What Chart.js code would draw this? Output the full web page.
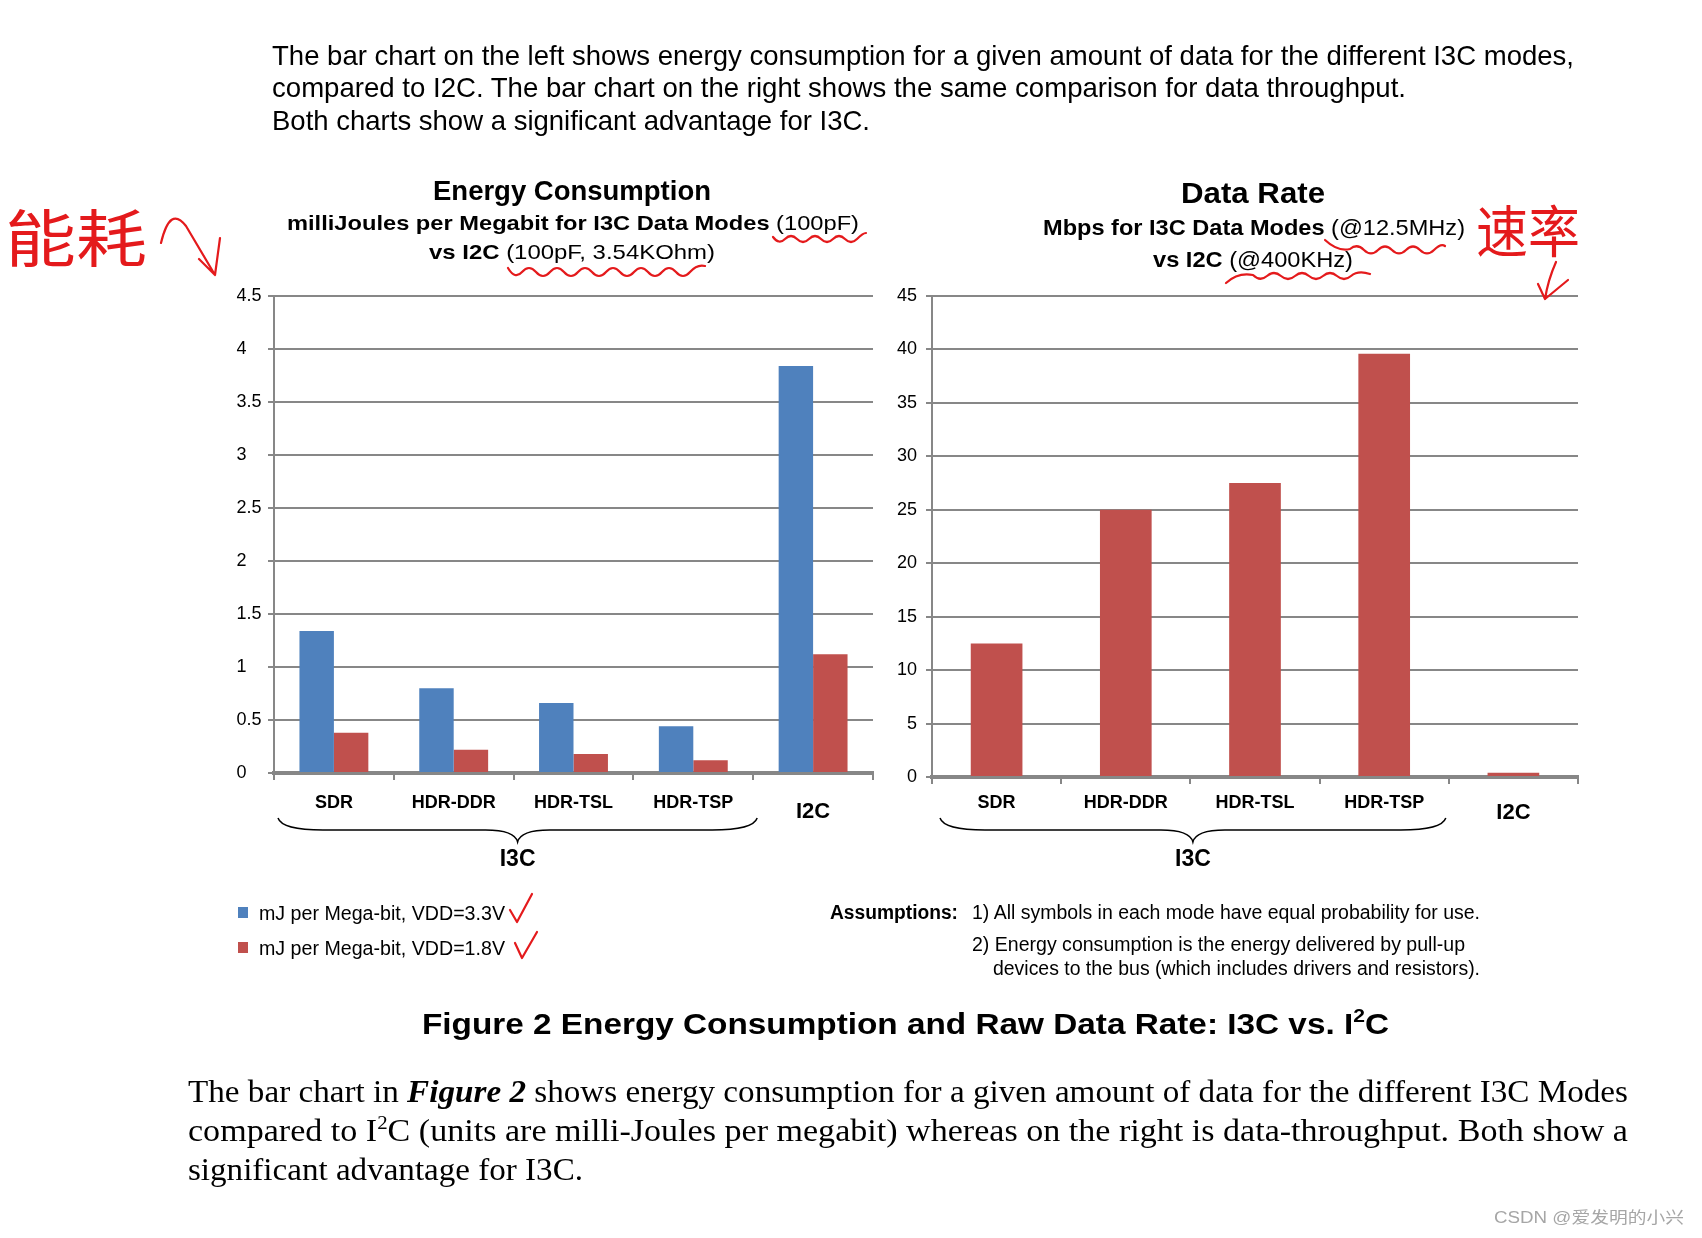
<!DOCTYPE html>
<html><head><meta charset="utf-8">
<script src="https://cdn.jsdelivr.net/npm/chart.js@4"></script>
<style>
html,body{margin:0;padding:0;background:#fff;width:1702px;height:1238px;overflow:hidden;}
canvas{position:absolute;}
#overlay{position:absolute;left:0;top:0;}
</style></head><body>
<canvas id="left" width="700" height="640" style="left:200px;top:260px"></canvas>
<canvas id="right" width="740" height="640" style="left:860px;top:260px"></canvas>
<svg id="overlay" width="1702" height="1238" xmlns="http://www.w3.org/2000/svg">
<g font-family="'Liberation Sans', Arial, sans-serif" fill="#000">
  <text x="272" y="65" font-size="28" textLength="1302" lengthAdjust="spacingAndGlyphs">The bar chart on the left shows energy consumption for a given amount of data for the different I3C modes,</text>
  <text x="272" y="97" font-size="28" textLength="1134" lengthAdjust="spacingAndGlyphs">compared to I2C. The bar chart on the right shows the same comparison for data throughput.</text>
  <text x="272" y="130" font-size="28" textLength="598" lengthAdjust="spacingAndGlyphs">Both charts show a significant advantage for I3C.</text>

  <text x="433" y="200" font-size="27" font-weight="bold" textLength="278" lengthAdjust="spacingAndGlyphs">Energy Consumption</text>
  <text x="287" y="230" font-size="21" textLength="572" lengthAdjust="spacingAndGlyphs"><tspan font-weight="bold">milliJoules per Megabit for I3C Data Modes</tspan> (100pF)</text>
  <text x="429" y="259" font-size="21" textLength="286" lengthAdjust="spacingAndGlyphs"><tspan font-weight="bold">vs I2C</tspan> (100pF, 3.54KOhm)</text>

  <text x="1181" y="203" font-size="30" font-weight="bold" textLength="144" lengthAdjust="spacingAndGlyphs">Data Rate</text>
  <text x="1043" y="235" font-size="22" textLength="422" lengthAdjust="spacingAndGlyphs"><tspan font-weight="bold">Mbps for I3C Data Modes</tspan> (@12.5MHz)</text>
  <text x="1153" y="267" font-size="22" textLength="200" lengthAdjust="spacingAndGlyphs"><tspan font-weight="bold">vs I2C</tspan> (@400KHz)</text>

  <g id="legend"></g>

  <text x="830" y="919" font-size="20" font-weight="bold" textLength="128" lengthAdjust="spacingAndGlyphs">Assumptions:</text>
  <text x="972" y="919" font-size="20" textLength="508" lengthAdjust="spacingAndGlyphs">1) All symbols in each mode have equal probability for use.</text>
  <text x="972" y="951" font-size="20" textLength="493" lengthAdjust="spacingAndGlyphs">2) Energy consumption is the energy delivered by pull-up</text>
  <text x="993" y="975" font-size="20" textLength="487" lengthAdjust="spacingAndGlyphs">devices to the bus (which includes drivers and resistors).</text>

  <text x="422" y="1034" font-size="30" font-weight="bold" textLength="967" lengthAdjust="spacingAndGlyphs">Figure 2 Energy Consumption and Raw Data Rate: I3C vs. I<tspan dy="-12" font-size="19">2</tspan><tspan dy="12">C</tspan></text>

  <text x="1494" y="1223" font-size="16" fill="#a6a6a6" font-family="'Liberation Sans','Noto Sans CJK SC',sans-serif" textLength="190" lengthAdjust="spacingAndGlyphs">CSDN @爱发明的小兴</text>
</g>
<g font-family="'Liberation Serif','Times New Roman',serif" fill="#000" font-size="31">
  <text x="188" y="1102" textLength="1440" lengthAdjust="spacingAndGlyphs">The bar chart in <tspan font-weight="bold" font-style="italic">Figure 2</tspan> shows energy consumption for a given amount of data for the different I3C Modes</text>
  <text x="188" y="1141" textLength="1440" lengthAdjust="spacingAndGlyphs">compared to I<tspan dy="-12" font-size="19">2</tspan><tspan dy="12">C (units are milli-Joules per megabit) whereas on the right is data-throughput. Both show a</tspan></text>
  <text x="188" y="1180" textLength="395" lengthAdjust="spacingAndGlyphs">significant advantage for I3C.</text>
</g>
<g fill="#e41a1c" font-family="'Noto Sans CJK SC',sans-serif">
  <text x="5" y="262" font-size="62" textLength="142" lengthAdjust="spacingAndGlyphs">能耗</text>
  <text x="1476" y="252" font-size="56" textLength="104" lengthAdjust="spacingAndGlyphs">速率</text>
</g>
<g fill="none" stroke="#e41a1c" stroke-width="2.2" stroke-linecap="round" stroke-linejoin="round">
  <path d="M161,243 Q170,205 186,226 L215,275 M199,259 L215,275 L220,238"/>
  <path d="M1556,262 Q1548,280 1545,299 M1538,284 L1545,299 L1568,280"/>
  <path d="M773,237 Q779,245 785,239 T797,239 T809,239 T821,239 T833,239 T845,239 T857,239 T866,233"/>
  <path d="M508,268 Q515,280 522,272 T536,272 T550,272 T564,272 T578,272 T592,272 T606,272 T620,272 T634,272 T648,272 T662,272 T676,272 T690,272 T705,266"/>
  <path d="M1325,240 Q1338,252 1350,249 Q1357,243 1364,250 T1378,250 T1392,250 T1406,250 T1420,250 T1434,250 T1445,246"/>
  <path d="M1226,283 Q1238,272 1253,275 Q1260,282 1267,276 T1281,276 T1295,276 T1309,276 T1323,276 T1337,276 T1351,276 T1370,274"/>
  <path d="M510,910 L517,922 L532,894"/>
  <path d="M515,943 L522,958 L537,932"/>
</g>
</svg>
<script>
// ---- data ----
const categories = ['SDR', 'HDR-DDR', 'HDR-TSL', 'HDR-TSP', 'I2C'];
const energyVdd33 = [1.34, 0.80, 0.66, 0.44, 3.84];
const energyVdd18 = [0.38, 0.22, 0.18, 0.12, 1.12];
const dataRateMbps = [12.5, 25, 27.5, 39.6, 0.4];
const energyTicks = ['0', '0.5', '1', '1.5', '2', '2.5', '3', '3.5', '4', '4.5'];
const rateTicks = ['0', '5', '10', '15', '20', '25', '30', '35', '40', '45'];
const seriesNames = ['mJ per Mega-bit, VDD=3.3V', 'mJ per Mega-bit, VDD=1.8V'];
const groupLabel = 'I3C';
const BLUE = '#4F81BD', RED = '#C0504D', GRID = '#878787';

Chart.defaults.font.family = "'Liberation Sans', Arial, sans-serif";
Chart.defaults.color = '#000';

const bracePlugin = {
  id: 'brace',
  afterDraw(chart, args, o) {
    const x = chart.scales.x, ctx = chart.ctx;
    const half = (x.getPixelForValue(1) - x.getPixelForValue(0)) / 2;
    const x0 = x.getPixelForValue(0) - half + o.inset0;
    const x1 = x.getPixelForValue(3) + half + o.inset1;
    const yT = o.top, yM = yT + 12, yP = yT + 24, xm = (x0 + x1) / 2;
    ctx.save();
    ctx.strokeStyle = '#000'; ctx.lineWidth = 1.5;
    ctx.beginPath();
    ctx.moveTo(x0, yT);
    ctx.quadraticCurveTo(x0 + 4, yM, x0 + 45, yM);
    ctx.lineTo(xm - 32, yM);
    ctx.quadraticCurveTo(xm - 3, yM, xm, yP);
    ctx.quadraticCurveTo(xm + 3, yM, xm + 32, yM);
    ctx.lineTo(x1 - 45, yM);
    ctx.quadraticCurveTo(x1 - 4, yM, x1, yT);
    ctx.stroke();
    ctx.font = "bold 23px 'Liberation Sans', Arial, sans-serif";
    ctx.textAlign = 'center'; ctx.textBaseline = 'middle';
    ctx.fillStyle = '#000';
    ctx.fillText(groupLabel, xm, o.labelY);
    ctx.restore();
  }
};

function xScale(height, pad, i2cLH) {
  return {
    type: 'category', offset: true,
    afterFit: s => { s.height = height; },
    grid: { display: true, drawOnChartArea: false, drawTicks: true, tickLength: 7, color: GRID, lineWidth: 2, offset: true },
    border: { display: true, color: GRID, width: 4 },
    ticks: {
      padding: pad, color: '#000', maxRotation: 0, autoSkip: false,
      font: c => c.index === 4 ? { size: 22, weight: 'bold', lineHeight: i2cLH } : { size: 18, weight: 'bold', lineHeight: 1.2 }
    }
  };
}

function yScale(max, step, labels, width, align, pad) {
  return {
    min: 0, max: max,
    afterFit: s => { s.width = width; },
    grid: { color: GRID, lineWidth: 2, drawTicks: true, tickLength: 6 },
    border: { display: true, color: GRID, width: 2 },
    ticks: { stepSize: step, crossAlign: align, padding: pad, color: '#000', font: { size: 18 },
      callback: (v, i) => labels[i] }
  };
}

new Chart(document.getElementById('left'), {
  type: 'bar',
  data: {
    labels: categories,
    datasets: [
      { label: seriesNames[0], data: energyVdd33, backgroundColor: BLUE, borderWidth: 0, categoryPercentage: 0.575, barPercentage: 1 },
      { label: seriesNames[1], data: energyVdd18, backgroundColor: RED, borderWidth: 0, categoryPercentage: 0.575, barPercentage: 1 }
    ]
  },
  options: {
    responsive: false, animation: false, devicePixelRatio: 1,
    layout: { padding: { left: 36.6, top: 36, right: 27, bottom: 0 } },
    plugins: { legend: { display: false }, tooltip: { enabled: false },
      brace: { inset0: 4, inset1: 4, top: 558, labelY: 600 } },
    scales: { x: xScale(127, 12, 1.8), y: yScale(4.5, 0.5, energyTicks, 37.4, 'far', 8) }
  },
  plugins: [bracePlugin]
});

new Chart(document.getElementById('right'), {
  type: 'bar',
  data: {
    labels: categories,
    datasets: [
      { label: 'Mbps', data: dataRateMbps, backgroundColor: RED, borderWidth: 0, categoryPercentage: 0.4, barPercentage: 1 }
    ]
  },
  options: {
    responsive: false, animation: false, devicePixelRatio: 1,
    layout: { padding: { left: 20, top: 36, right: 22, bottom: 0 } },
    plugins: { legend: { display: false }, tooltip: { enabled: false },
      brace: { inset0: 8, inset1: -3, top: 558, labelY: 600 } },
    scales: { x: xScale(123, 8, 1.9), y: yScale(45, 5, rateTicks, 52, 'near', 9) }
  },
  plugins: [bracePlugin]
});

// legend built from series names
const NS = 'http://www.w3.org/2000/svg';
const lg = document.getElementById('legend');
[BLUE, RED].forEach((col, i) => {
  const r = document.createElementNS(NS, 'rect');
  r.setAttribute('x', 238); r.setAttribute('y', 907 + i * 35);
  r.setAttribute('width', 10); r.setAttribute('height', 11); r.setAttribute('fill', col);
  lg.appendChild(r);
  const t = document.createElementNS(NS, 'text');
  t.setAttribute('x', 259); t.setAttribute('y', 920 + i * 34.5);
  t.setAttribute('font-size', 20); t.setAttribute('textLength', 246);
  t.setAttribute('lengthAdjust', 'spacingAndGlyphs');
  t.textContent = seriesNames[i];
  lg.appendChild(t);
});
</script>
</body></html>
